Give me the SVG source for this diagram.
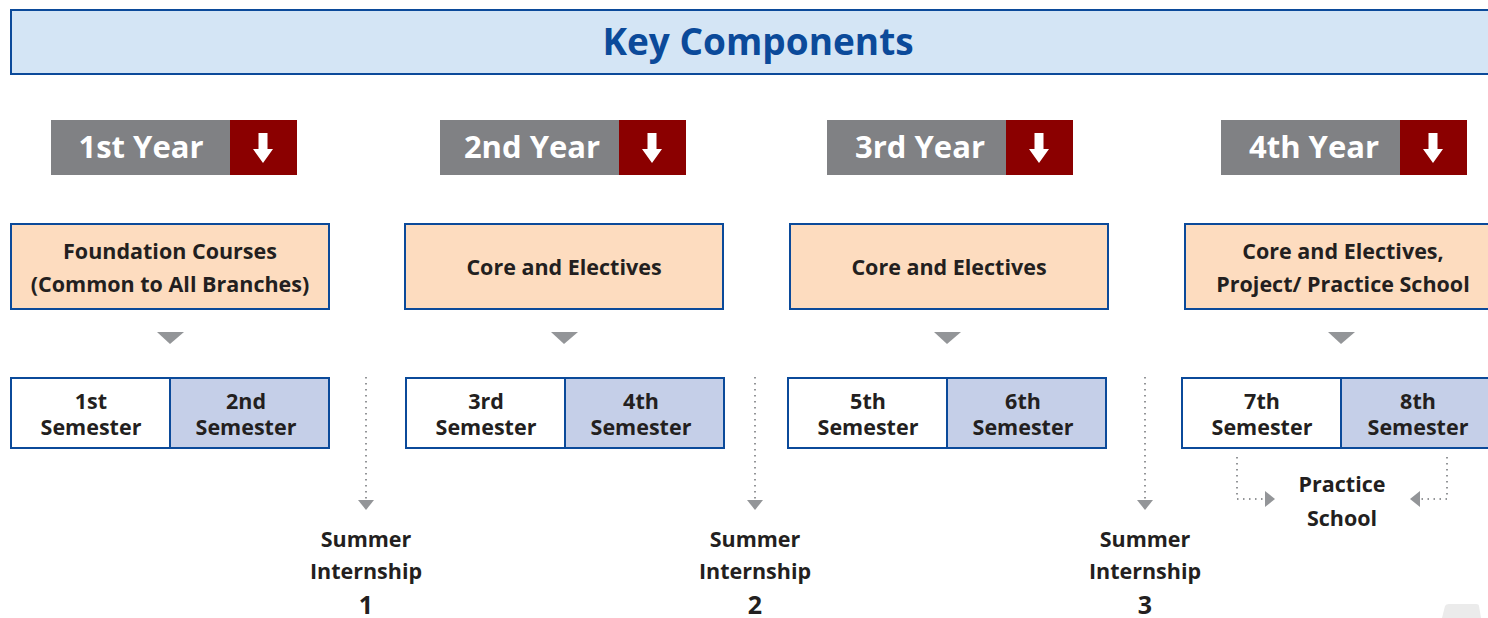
<svg xmlns="http://www.w3.org/2000/svg" width="1488" height="618" viewBox="0 0 1488 618">
<defs>
<style>
text{font-family:"Open Sans","Noto Sans",sans-serif;text-anchor:middle}
.title{font-size:37px;font-weight:700;fill:#0b4a9a}
.yr{font-size:31px;font-weight:700;fill:#ffffff}
.lbl{font-size:21.5px;font-weight:700;fill:#231f20}
.num{font-size:25px;font-weight:700;fill:#231f20}
.gray{fill:#808184}
.red{fill:#8b0000}
.arw{fill:#ffffff}
.course{fill:#fddcbf;stroke:#0b4a9a;stroke-width:2}
.semw{fill:#ffffff;stroke:#0b4a9a;stroke-width:2}
.semb{fill:#c5cfe8;stroke:#0b4a9a;stroke-width:2}
.tri{fill:#939598}
.dot{fill:none;stroke:#939598;stroke-width:2;stroke-dasharray:1.5 4.5}
</style>
<marker id="ah" viewBox="0 0 10 16" refX="0" refY="8" markerWidth="10" markerHeight="16" markerUnits="userSpaceOnUse" orient="auto">
<path d="M0,0 L10,8 L0,16 z" fill="#939598"/>
</marker>
<path id="down" d="M-4.5,-14 H4.5 V2 H10 L0,16 L-10,2 H-4.5 Z"/>
</defs>
<rect x="0" y="0" width="1488" height="618" fill="#ffffff"/>
<g id="title">
<rect x="11" y="10" width="1490" height="64" fill="#d4e5f5" stroke="#0b4a9a" stroke-width="2"/>
<text class="title" x="758" y="55">Key Components</text>
</g>
<g id="year1">
<rect class="gray" x="51" y="120" width="179" height="55"/>
<rect class="red" x="230" y="120" width="67" height="55"/>
<text class="yr" x="141" y="158">1st Year</text>
<use href="#down" class="arw" x="263" y="147"/>
</g>
<g id="year2">
<rect class="gray" x="440" y="120" width="179" height="55"/>
<rect class="red" x="619" y="120" width="67" height="55"/>
<text class="yr" x="532" y="158">2nd Year</text>
<use href="#down" class="arw" x="652" y="147"/>
</g>
<g id="year3">
<rect class="gray" x="827" y="120" width="179" height="55"/>
<rect class="red" x="1006" y="120" width="67" height="55"/>
<text class="yr" x="920" y="158">3rd Year</text>
<use href="#down" class="arw" x="1039" y="147"/>
</g>
<g id="year4">
<rect class="gray" x="1221" y="120" width="179" height="55"/>
<rect class="red" x="1400" y="120" width="67" height="55"/>
<text class="yr" x="1314" y="158">4th Year</text>
<use href="#down" class="arw" x="1433" y="147"/>
</g>
<g id="courses1">
<rect class="course" x="11" y="224" width="318" height="85"/>
<text class="lbl" x="170" y="259">Foundation Courses</text>
<text class="lbl" x="170" y="292">(Common to All Branches)</text>
</g>
<g id="courses2">
<rect class="course" x="405" y="224" width="318" height="85"/>
<text class="lbl" x="564" y="275">Core and Electives</text>
</g>
<g id="courses3">
<rect class="course" x="790" y="224" width="318" height="85"/>
<text class="lbl" x="949" y="275">Core and Electives</text>
</g>
<g id="courses4">
<rect class="course" x="1185" y="224" width="320" height="85"/>
<text class="lbl" x="1343" y="259">Core and Electives,</text>
<text class="lbl" x="1343" y="292">Project/ Practice School</text>
</g>
<g id="semesters1">
<rect class="semw" x="11" y="378" width="159" height="70"/>
<rect class="semb" x="170" y="378" width="159" height="70"/>
<text class="lbl" x="91" y="409">1st</text>
<text class="lbl" x="91" y="435">Semester</text>
<text class="lbl" x="246" y="409">2nd</text>
<text class="lbl" x="246" y="435">Semester</text>
</g>
<g id="semesters2">
<rect class="semw" x="406" y="378" width="159" height="70"/>
<rect class="semb" x="565" y="378" width="159" height="70"/>
<text class="lbl" x="486" y="409">3rd</text>
<text class="lbl" x="486" y="435">Semester</text>
<text class="lbl" x="641" y="409">4th</text>
<text class="lbl" x="641" y="435">Semester</text>
</g>
<g id="semesters3">
<rect class="semw" x="788" y="378" width="159" height="70"/>
<rect class="semb" x="947" y="378" width="159" height="70"/>
<text class="lbl" x="868" y="409">5th</text>
<text class="lbl" x="868" y="435">Semester</text>
<text class="lbl" x="1023" y="409">6th</text>
<text class="lbl" x="1023" y="435">Semester</text>
</g>
<g id="semesters4">
<rect class="semw" x="1182" y="378" width="159" height="70"/>
<rect class="semb" x="1341" y="378" width="160" height="70"/>
<text class="lbl" x="1262" y="409">7th</text>
<text class="lbl" x="1262" y="435">Semester</text>
<text class="lbl" x="1418" y="409">8th</text>
<text class="lbl" x="1418" y="435">Semester</text>
</g>
<g id="internship1">
<text class="lbl" x="366" y="547">Summer</text>
<text class="lbl" x="366" y="579">Internship</text>
<text class="num" x="366" y="614">1</text>
</g>
<g id="internship2">
<text class="lbl" x="755" y="547">Summer</text>
<text class="lbl" x="755" y="579">Internship</text>
<text class="num" x="755" y="614">2</text>
</g>
<g id="internship3">
<text class="lbl" x="1145" y="547">Summer</text>
<text class="lbl" x="1145" y="579">Internship</text>
<text class="num" x="1145" y="614">3</text>
</g>
<g id="practice-school">
<text class="lbl" x="1342" y="492">Practice</text>
<text class="lbl" x="1342" y="526">School</text>
</g>
<g id="connectors">
<polygon class="tri" points="157,332 184,332 170,344"/>
<polygon class="tri" points="551,332 578,332 564,344"/>
<polygon class="tri" points="934,332 961,332 947,344"/>
<polygon class="tri" points="1328,332 1355,332 1341,344"/>
<path class="dot" d="M366,377 V500" marker-end="url(#ah)"/>
<path class="dot" d="M755,377 V500" marker-end="url(#ah)"/>
<path class="dot" d="M1145,377 V500" marker-end="url(#ah)"/>
<path class="dot" d="M1237,457 V499 H1265" marker-end="url(#ah)"/>
<path class="dot" d="M1447,457 V499 H1420" marker-end="url(#ah)"/>
</g>
<path d="M1445,606 Q1446,604 1449,604 H1476 Q1479,604 1479,606 L1481,618 H1442 Z" fill="#ebebeb"/>
</svg>
